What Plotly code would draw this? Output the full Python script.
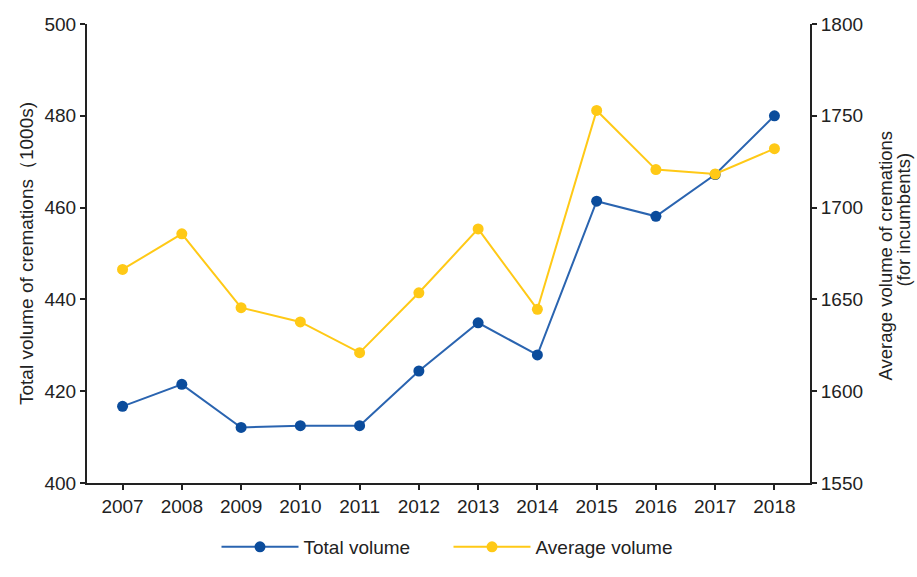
import plotly.graph_objects as go

years = [2007, 2008, 2009, 2010, 2011, 2012, 2013, 2014, 2015, 2016, 2017, 2018]
total_volume = [416.7, 421.5, 412.1, 412.5, 412.5, 424.4, 434.9, 427.9, 461.4, 458.1, 467.2, 480.0]
average_volume = [1666.3, 1685.7, 1645.5, 1637.7, 1621.0, 1653.6, 1688.4, 1644.6, 1752.9, 1720.7, 1718.3, 1732.1]

left_ticks = [400, 420, 440, 460, 480, 500]
right_ticks = [1550, 1600, 1650, 1700, 1750, 1800]

BLUE_LINE = "#2a64b0"
BLUE_MARK = "#0b4c9c"
YELLOW = "#ffc916"
FONT = "Liberation Sans, Arial, sans-serif"
TEXT = "#222"

fig = go.Figure()
fig.add_trace(go.Scatter(
    x=years, y=total_volume, name="Total volume", mode="lines+markers",
    line=dict(color=BLUE_LINE, width=2),
    marker=dict(color=BLUE_MARK, size=11),
    yaxis="y",
))
fig.add_trace(go.Scatter(
    x=years, y=average_volume, name="Average volume", mode="lines+markers",
    line=dict(color=YELLOW, width=2),
    marker=dict(color=YELLOW, size=11),
    yaxis="y2",
))

axis_common = dict(
    showline=True, linecolor=TEXT, linewidth=2,
    ticks="outside", ticklen=5, tickwidth=1.5, tickcolor=TEXT,
    showgrid=False, zeroline=False, automargin=False,
    tickfont=dict(family=FONT, size=19, color=TEXT),
)

title_font = dict(family=FONT, size=19, color=TEXT)

# right-hand axis title, set as two rotated lines
right_font = dict(family=FONT, size=18.5, color=TEXT)
right_title = [
    ("Average volume of cremations", 1.1037, 0.4957),
    ("(for incumbents)", 1.1300, 0.5739),
]
annotations = [
    dict(text=t, x=x, y=y, xref="paper", yref="paper", textangle=-90,
         showarrow=False, xanchor="center", yanchor="middle", font=right_font)
    for t, x, y in right_title
]

fig.update_layout(
    width=917, height=577,
    margin=dict(l=87, r=107, t=24, b=93),
    paper_bgcolor="white", plot_bgcolor="white",
    font=dict(family=FONT, color=TEXT),
    xaxis=dict(
        range=[2006.4, 2018.6], tickmode="array", tickvals=years,
        ticktext=[str(y) for y in years], **axis_common,
    ),
    yaxis=dict(
        range=[400, 500], tickmode="array", tickvals=left_ticks,
        title=dict(text="Total volume of cremations（1000s)",
                   font=title_font, standoff=6),
        **axis_common,
    ),
    yaxis2=dict(
        range=[1550, 1800], tickmode="array", tickvals=right_ticks,
        overlaying="y", side="right",
        **axis_common,
    ),
    annotations=annotations,
    legend=dict(
        orientation="h", x=0.5, xanchor="center", y=-0.137, yanchor="middle",
        font=dict(family=FONT, size=19, color=TEXT),
        itemwidth=77, traceorder="normal",
        entrywidth=140, entrywidthmode="pixels",
    ),
)

fig.write_html("out.html")
